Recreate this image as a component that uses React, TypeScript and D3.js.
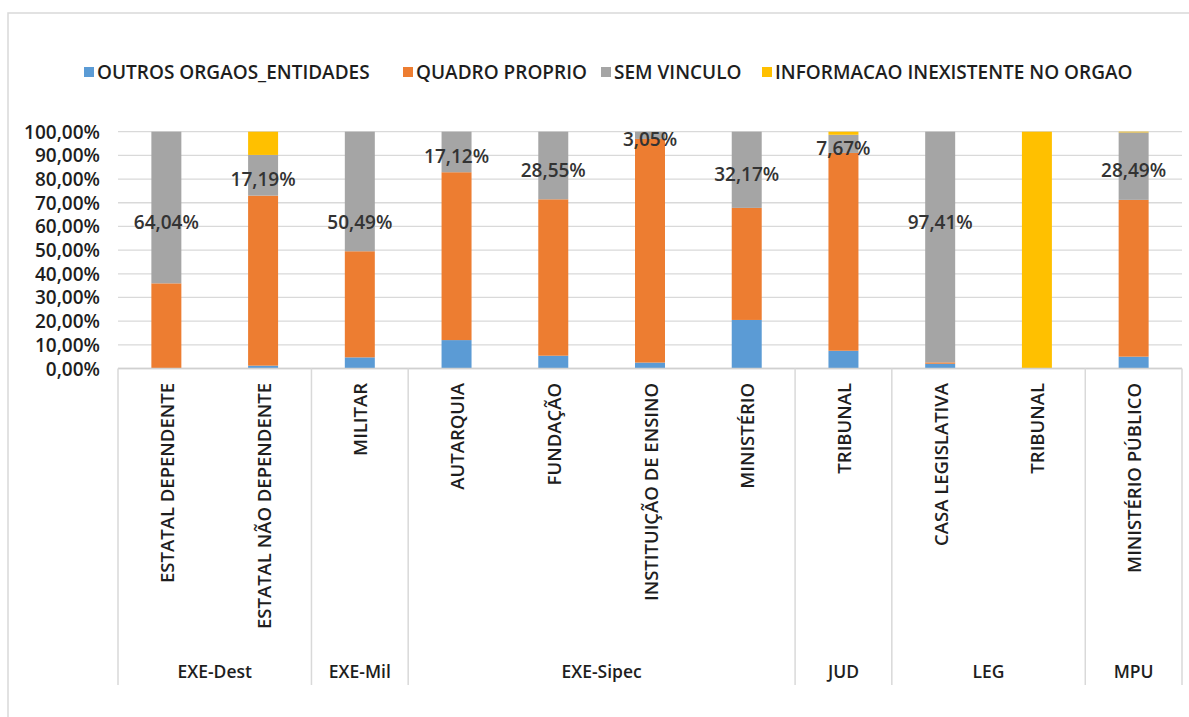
import React from "react";
import * as d3 from "d3";

const categories = [
  "ESTATAL DEPENDENTE",
  "ESTATAL NÃO DEPENDENTE",
  "MILITAR",
  "AUTARQUIA",
  "FUNDAÇÃO",
  "INSTITUIÇÃO DE ENSINO",
  "MINISTÉRIO",
  "TRIBUNAL",
  "CASA LEGISLATIVA",
  "TRIBUNAL",
  "MINISTÉRIO PÚBLICO",
];
const groupNames = ["EXE-Dest", "EXE-Mil", "EXE-Sipec", "JUD", "LEG", "MPU"];
const groupSizes = [2, 1, 4, 1, 2, 1];

const seriesNames = [
  "OUTROS ORGAOS_ENTIDADES",
  "QUADRO PROPRIO",
  "SEM VINCULO",
  "INFORMACAO INEXISTENTE NO ORGAO",
];
const outrosOrgaos = [0, 1.2, 4.7, 12.0, 5.4, 2.5, 20.5, 7.5, 2.0, 0, 5.0];
const quadroProprio = [35.96, 71.8, 44.81, 70.88, 66.05, 94.45, 47.33, 83.53, 0.59, 0, 66.21];
const semVinculo = [64.04, 17.19, 50.49, 17.12, 28.55, 3.05, 32.17, 7.67, 97.41, 0, 28.49];
const infoInexistente = [0, 9.81, 0, 0, 0, 0, 0, 1.3, 0, 100, 0.3];

const yTicks = [0, 10, 20, 30, 40, 50, 60, 70, 80, 90, 100];

const colors = ["#5b9bd5", "#ed7d31", "#a5a5a5", "#ffc000"];
const FONT = "'Open Sans', 'Noto Sans', sans-serif";

export default function App() {
  const W = 1189;
  const H = 717;
  const left = 118;
  const right = 1182;
  const y0 = 368.5;
  const y100 = 131.7;

  const rows = categories.map((c, i) => ({
    idx: i,
    [seriesNames[0]]: outrosOrgaos[i],
    [seriesNames[1]]: quadroProprio[i],
    [seriesNames[2]]: semVinculo[i],
    [seriesNames[3]]: infoInexistente[i],
  }));

  const x = d3
    .scaleBand<number>()
    .domain(categories.map((_, i) => i))
    .range([left, right])
    .paddingInner(0.69)
    .paddingOuter(0.345);
  const step = x.step();
  const y = d3.scaleLinear().domain([0, 100]).range([y0, y100]);

  const stacked = d3.stack<any>().keys(seriesNames)(rows as any);

  const fmt = (v: number) => v.toFixed(2).replace(".", ",") + "%";

  const bounds: number[] = [0];
  groupSizes.forEach((s) => bounds.push(bounds[bounds.length - 1] + s));

  const legendX = [84, 403, 601, 762];
  const legendY = 72;
  const txt = "#1e1e1e";

  return (
    <svg
      width={W}
      height={H}
      style={{ position: "absolute", left: 0, top: 0, background: "#fff" }}
      fontFamily={FONT}
      fontWeight={600}
    >
      <rect x={8} y={13} width={1200} height={720} fill="#fff" stroke="#d9d9d9" strokeWidth={1.5} />

      {/* legend */}
      {seriesNames.map((s, i) => (
        <g key={s}>
          <rect x={legendX[i]} y={legendY - 5} width={10} height={10} fill={colors[i]} />
          <text x={legendX[i] + 13} y={legendY} dominantBaseline="central" fontSize={19} fill={txt}>
            {s}
          </text>
        </g>
      ))}

      {/* gridlines */}
      {yTicks.map((t) => (
        <line key={t} x1={left} x2={right} y1={y(t)} y2={y(t)} stroke="#d9d9d9" strokeWidth={1.3} />
      ))}
      {/* y tick labels */}
      {yTicks.map((t) => (
        <text
          key={"l" + t}
          x={100}
          y={y(t)}
          textAnchor="end"
          dominantBaseline="central"
          fontSize={19}
          fill={txt}
        >
          {t.toFixed(2).replace(".", ",") + "%"}
        </text>
      ))}

      {/* bars */}
      {stacked.map((layer, si) => (
        <g key={layer.key} fill={colors[si]}>
          {layer.map((d, i) =>
            d[1] - d[0] > 0 ? (
              <rect
                key={i}
                x={x(i)!}
                width={x.bandwidth()}
                y={y(d[1])}
                height={y(d[0]) - y(d[1])}
              />
            ) : null
          )}
        </g>
      ))}

      {/* data labels for SEM VINCULO */}
      {stacked[2].map((d, i) => {
        const v = d[1] - d[0];
        if (v <= 0) return null;
        const mid = v > 50 ? 63.7 : (d[0] + d[1]) / 2;
        return (
          <text
            key={"dl" + i}
            x={x(i)! + x.bandwidth() / 2}
            y={y(mid) + 4}
            textAnchor="middle"
            dominantBaseline="central"
            fontSize={19}
            fill="#333"
          >
            {fmt(v)}
          </text>
        );
      })}

      {/* x axis line */}
      <line x1={left} x2={right} y1={y0} y2={y0} stroke="#d0d0d0" strokeWidth={1.5} />

      {/* group separators */}
      {bounds.map((b, i) => {
        const bx = left + b * step;
        return <line key={"s" + i} x1={bx} x2={bx} y1={y0} y2={685} stroke="#d9d9d9" strokeWidth={1.5} />;
      })}

      {/* category labels */}
      {categories.map((c, i) => {
        const cx = x(i)! + x.bandwidth() / 2;
        return (
          <text
            key={"c" + i}
            transform={`translate(${cx},383) rotate(-90)`}
            textAnchor="end"
            dominantBaseline="central"
            fontSize={18.5}
            fill={txt}
          >
            {c}
          </text>
        );
      })}

      {/* group labels */}
      {groupNames.map((g, i) => {
        const gx = left + ((bounds[i] + bounds[i + 1]) / 2) * step;
        return (
          <text key={"g" + i} x={gx} y={671} textAnchor="middle" dominantBaseline="central" fontSize={17.5} fill={txt}>
            {g}
          </text>
        );
      })}
    </svg>
  );
}
